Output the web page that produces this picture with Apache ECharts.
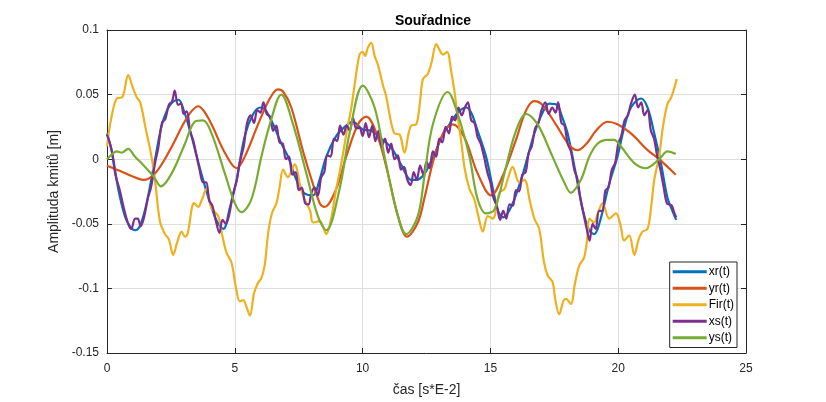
<!DOCTYPE html>
<html>
<head>
<meta charset="utf-8">
<script src="https://cdn.jsdelivr.net/npm/echarts@6/dist/echarts.min.js"></script>
<style>html,body{margin:0;padding:0;background:#fff}#c{width:826px;height:402px}</style>
</head>
<body>
<div id="c"></div>
<script>
const seriesNames = ['xr(t)', 'yr(t)', 'Fir(t)', 'xs(t)', 'ys(t)'];
const xTicks = [0, 5, 10, 15, 20, 25];
const yTicks = [-0.15, -0.1, -0.05, 0, 0.05, 0.1];

const xrData = [[0,0.02],[0.2,0.005],[0.44,-0.023],[0.7,-0.044],[0.9,-0.052],[1.1,-0.055],[1.3,-0.051],[1.55,-0.034],[1.88,0.0],[2.14,0.026],[2.35,0.038],[2.55,0.044],[2.8,0.046],[3.0,0.038],[3.25,0.022],[3.5,0.003],[3.76,-0.016],[4.02,-0.033],[4.3,-0.048],[4.55,-0.054],[4.8,-0.038],[5.07,-0.016],[5.39,0.018],[5.72,0.035],[6.0,0.04],[6.2,0.038],[6.5,0.027],[6.8,0.013],[7.08,0.002],[7.41,-0.016],[7.7,-0.026],[8.06,-0.028],[8.3,-0.017],[8.58,0.002],[8.97,0.018],[9.3,0.025],[9.62,0.029],[10.0,0.023],[10.34,0.022],[10.66,0.017],[11.12,0.009],[11.5,-0.004],[11.9,-0.016],[12.1,-0.016],[12.4,-0.012],[12.62,-0.004],[12.88,0.007],[13.14,0.019],[13.4,0.027],[13.72,0.036],[14.05,0.04],[14.25,0.036],[14.5,0.022],[14.83,0.002],[15.09,-0.022],[15.3,-0.04],[15.5,-0.045],[15.81,-0.037],[16.2,-0.016],[16.46,0.002],[16.72,0.02],[17.04,0.036],[17.3,0.043],[17.6,0.042],[17.8,0.033],[18.02,0.02],[18.34,-0.011],[18.6,-0.038],[18.86,-0.055],[19.06,-0.058],[19.26,-0.05],[19.65,-0.019],[19.97,0.002],[20.23,0.024],[20.5,0.04],[20.89,0.047],[21.15,0.04],[21.41,0.02],[21.67,-0.003],[21.93,-0.03],[22.12,-0.04],[22.27,-0.047]];

const yrData = [[0,-0.005],[0.5,-0.009],[0.96,-0.013],[1.42,-0.016],[1.88,-0.011],[2.46,0.007],[2.98,0.027],[3.3,0.037],[3.57,0.041],[3.8,0.037],[4.09,0.027],[4.61,0.005],[5.07,-0.007],[5.39,0.002],[5.91,0.027],[6.37,0.047],[6.69,0.054],[6.9,0.052],[7.21,0.04],[7.73,0.002],[8.32,-0.034],[8.51,-0.037],[8.97,-0.023],[9.36,0.002],[9.82,0.027],[10.14,0.033],[10.6,0.017],[10.99,-0.011],[11.38,-0.044],[11.74,-0.06],[12.16,-0.049],[12.42,-0.03],[12.81,0.002],[13.2,0.022],[13.53,0.027],[13.98,0.017],[14.5,-0.011],[15.03,-0.028],[15.48,-0.013],[16.0,0.015],[16.4,0.038],[16.72,0.045],[17.04,0.042],[17.56,0.027],[18.08,0.011],[18.41,0.007],[18.8,0.013],[19.13,0.022],[19.58,0.029],[19.97,0.027],[20.5,0.02],[21.15,0.007],[21.6,0],[22.25,-0.012]];

const firData = [[0,0.01],[0.15,0.03],[0.38,0.047],[0.6,0.048],[0.83,0.065],[1.0,0.056],[1.16,0.048],[1.3,0.044],[1.5,0.025],[1.74,0.002],[1.9,-0.02],[2.07,-0.048],[2.27,-0.058],[2.42,-0.062],[2.59,-0.074],[2.75,-0.064],[2.92,-0.056],[3.05,-0.06],[3.15,-0.058],[3.41,-0.034],[3.57,-0.037],[3.7,-0.032],[3.89,-0.023],[4.09,-0.038],[4.35,-0.044],[4.5,-0.058],[4.67,-0.072],[4.87,-0.08],[5.05,-0.1],[5.2,-0.11],[5.33,-0.109],[5.45,-0.114],[5.59,-0.121],[5.75,-0.104],[5.9,-0.096],[6.04,-0.092],[6.17,-0.082],[6.3,-0.058],[6.45,-0.042],[6.63,-0.034],[6.75,-0.022],[6.89,-0.008],[7.08,-0.014],[7.2,-0.01],[7.34,-0.004],[7.6,-0.024],[7.8,-0.034],[7.95,-0.04],[8.06,-0.049],[8.32,-0.048],[8.45,-0.052],[8.58,-0.058],[8.77,-0.046],[8.95,-0.025],[9.17,-0.003],[9.35,0.018],[9.56,0.04],[9.72,0.062],[9.88,0.081],[10.0,0.083],[10.1,0.08],[10.2,0.086],[10.34,0.09],[10.47,0.08],[10.6,0.073],[10.8,0.057],[10.92,0.049],[11.1,0.03],[11.25,0.02],[11.45,0.019],[11.64,0.005],[11.8,0.02],[11.9,0.026],[12.1,0.027],[12.25,0.045],[12.36,0.062],[12.55,0.066],[12.7,0.075],[12.88,0.089],[13.05,0.083],[13.14,0.081],[13.31,0.083],[13.45,0.07],[13.59,0.053],[13.72,0.033],[13.85,0.015],[14.0,-0.008],[14.18,-0.023],[14.37,-0.031],[14.55,-0.046],[14.7,-0.056],[14.9,-0.044],[15.09,-0.046],[15.35,-0.026],[15.55,-0.023],[15.7,-0.014],[15.87,-0.006],[16.13,-0.018],[16.33,-0.016],[16.55,-0.033],[16.72,-0.046],[16.91,-0.054],[17.1,-0.08],[17.24,-0.09],[17.43,-0.095],[17.55,-0.11],[17.69,-0.12],[17.85,-0.11],[17.95,-0.108],[18.15,-0.112],[18.3,-0.097],[18.48,-0.082],[18.67,-0.076],[18.8,-0.059],[18.87,-0.046],[19.06,-0.049],[19.2,-0.042],[19.39,-0.034],[19.65,-0.046],[19.91,-0.042],[20.1,-0.052],[20.23,-0.063],[20.43,-0.059],[20.63,-0.074],[20.8,-0.062],[20.95,-0.056],[21.15,-0.054],[21.3,-0.035],[21.41,-0.016],[21.6,0.002],[21.75,0.025],[21.93,0.043],[22.08,0.048],[22.29,0.062]];

const xsData = [[0,0.019],[0.17,0.008],[0.33,-0.012],[0.5,-0.024],[0.66,-0.038],[0.83,-0.05],[0.95,-0.054],[1.1,-0.046],[1.2,-0.046],[1.32,-0.052],[1.45,-0.045],[1.6,-0.03],[1.72,-0.022],[1.88,-0.003],[2.0,0.008],[2.15,0.028],[2.28,0.031],[2.42,0.042],[2.55,0.045],[2.65,0.053],[2.78,0.042],[2.9,0.043],[3.0,0.035],[3.12,0.037],[3.25,0.022],[3.38,0.014],[3.5,0.003],[3.62,-0.008],[3.76,-0.018],[3.88,-0.018],[4.0,-0.032],[4.12,-0.036],[4.25,-0.047],[4.4,-0.057],[4.52,-0.047],[4.65,-0.05],[4.78,-0.043],[4.92,-0.028],[5.07,-0.017],[5.2,-0.002],[5.35,0.01],[5.48,0.028],[5.62,0.034],[5.75,0.028],[5.88,0.038],[6.0,0.036],[6.12,0.044],[6.25,0.035],[6.38,0.033],[6.5,0.022],[6.62,0.026],[6.75,0.013],[6.88,0.012],[7.0,0.0],[7.12,0.002],[7.25,-0.012],[7.38,-0.01],[7.5,-0.024],[7.62,-0.022],[7.75,-0.034],[7.88,-0.035],[8.0,-0.026],[8.12,-0.022],[8.25,-0.028],[8.38,-0.014],[8.5,-0.01],[8.62,0.003],[8.75,0.002],[8.88,0.016],[9.0,0.014],[9.12,0.026],[9.25,0.019],[9.38,0.026],[9.5,0.022],[9.62,0.032],[9.75,0.024],[9.88,0.024],[10.0,0.018],[10.12,0.028],[10.25,0.017],[10.38,0.026],[10.5,0.014],[10.62,0.022],[10.75,0.01],[10.88,0.016],[11.0,0.005],[11.12,0.012],[11.25,0.0],[11.38,0.003],[11.5,-0.008],[11.62,-0.006],[11.75,-0.016],[11.88,-0.02],[12.0,-0.01],[12.12,-0.016],[12.25,-0.005],[12.38,-0.012],[12.5,-0.002],[12.62,-0.007],[12.75,0.006],[12.88,0.002],[13.0,0.016],[13.12,0.013],[13.25,0.025],[13.38,0.02],[13.5,0.033],[13.62,0.03],[13.75,0.04],[13.88,0.034],[14.0,0.04],[14.12,0.044],[14.25,0.03],[14.38,0.028],[14.5,0.017],[14.62,0.012],[14.75,0.002],[14.88,-0.01],[15.0,-0.018],[15.12,-0.03],[15.25,-0.036],[15.38,-0.047],[15.5,-0.04],[15.62,-0.046],[15.75,-0.035],[15.88,-0.036],[16.0,-0.024],[16.12,-0.025],[16.25,-0.012],[16.38,-0.01],[16.5,0.005],[16.62,0.01],[16.75,0.024],[16.88,0.028],[17.0,0.038],[17.15,0.044],[17.28,0.035],[17.42,0.04],[17.55,0.036],[17.65,0.044],[17.78,0.028],[17.9,0.026],[18.02,0.012],[18.15,0.006],[18.28,-0.008],[18.4,-0.015],[18.52,-0.03],[18.65,-0.043],[18.78,-0.055],[18.88,-0.063],[19.0,-0.05],[19.12,-0.054],[19.25,-0.04],[19.38,-0.04],[19.5,-0.024],[19.62,-0.022],[19.75,-0.008],[19.88,-0.003],[20.0,0.012],[20.12,0.018],[20.25,0.03],[20.38,0.034],[20.5,0.043],[20.65,0.05],[20.78,0.04],[20.9,0.044],[21.02,0.034],[21.15,0.038],[21.28,0.022],[21.4,0.016],[21.52,0.003],[21.65,-0.008],[21.78,-0.022],[21.9,-0.034],[22.0,-0.035],[22.1,-0.036],[22.2,-0.042],[22.27,-0.045]];

const ysData = [[0,0.0],[0.2,0.004],[0.38,0.006],[0.57,0.005],[0.83,0.008],[1.09,0.002],[1.35,-0.003],[1.81,-0.013],[2.11,-0.021],[2.53,-0.011],[3.05,0.012],[3.44,0.029],[3.76,0.03],[4.09,0.02],[4.61,-0.011],[5.0,-0.034],[5.26,-0.041],[5.65,-0.031],[6.04,0.002],[6.37,0.027],[6.82,0.05],[7.28,0.027],[7.8,-0.011],[8.25,-0.044],[8.58,-0.055],[9.1,-0.023],[9.49,0.02],[10.01,0.057],[10.47,0.04],[10.86,0.002],[11.32,-0.039],[11.71,-0.058],[12.16,-0.044],[12.42,-0.013],[12.75,0.027],[13.33,0.052],[13.72,0.035],[14.18,0.002],[14.5,-0.031],[14.83,-0.042],[15.16,-0.039],[15.61,-0.006],[16.0,0.022],[16.4,0.035],[16.85,0.027],[17.43,0.002],[17.89,-0.018],[18.15,-0.026],[18.54,-0.016],[18.87,0.002],[19.19,0.012],[19.58,0.015],[19.84,0.015],[20.1,0.01],[20.63,-0.003],[21.08,-0.007],[21.6,0.0],[21.93,0.006],[22.25,0.004]];

const colors = ['#0072BD', '#D95319', '#EDB120', '#7E2F8E', '#77AC30'];
const allData = [xrData, yrData, firData, xsData, ysData];

const chart = echarts.init(document.getElementById('c'), null, {renderer: 'canvas'});
const font = 'Arial, "Liberation Sans", Helvetica, sans-serif';
const fmt = v => String(parseFloat(Number(v).toFixed(2)));

const axisCommon = {
  axisLine: {show: true, onZero: false, lineStyle: {color: '#262626', width: 1}},
  axisTick: {show: true, inside: true, length: 5, lineStyle: {color: '#262626'}},
};

chart.setOption({
  animation: false,
  backgroundColor: '#ffffff',
  color: colors,
  title: {
    text: 'Souřadnice', left: 428, top: 9, textAlign: 'center',
    textStyle: {fontFamily: font, fontSize: 14, fontWeight: 'bold', color: '#000'}
  },
  grid: {left: 107, right: 80, top: 30, bottom: 46, show: false},
  legend: {
    data: seriesNames,
    orient: 'vertical',
    right: 89, top: 262,
    icon: 'rect', itemWidth: 34, itemHeight: 3, itemGap: 3,
    padding: [3, 3, 3, 3],
    backgroundColor: '#fff', borderColor: '#262626', borderWidth: 1, borderRadius: 0,
    textStyle: {fontFamily: font, fontSize: 12, color: '#000', padding: [0, 0, 0, -3], lineHeight: 13.5}
  },
  xAxis: [
    Object.assign({
      type: 'value', min: xTicks[0], max: xTicks[xTicks.length - 1], interval: 5,
      name: 'čas [s*E-2]', nameLocation: 'middle', nameGap: 30,
      nameTextStyle: {fontFamily: font, fontSize: 14, color: '#262626'},
      axisLabel: {fontFamily: font, fontSize: 12, color: '#262626', margin: 10, formatter: fmt},
      splitLine: {show: true, lineStyle: {color: '#dfdfdf', width: 1}}
    }, axisCommon),
    Object.assign({
      type: 'value', position: 'top', min: xTicks[0], max: xTicks[xTicks.length - 1], interval: 5,
      axisLabel: {show: false}, splitLine: {show: false}
    }, axisCommon)
  ],
  yAxis: [
    Object.assign({
      type: 'value', min: yTicks[0], max: yTicks[yTicks.length - 1], interval: 0.05,
      name: 'Amplituda kmitů [m]', nameLocation: 'middle', nameGap: 42,
      nameTextStyle: {fontFamily: font, fontSize: 14, color: '#262626'},
      axisLabel: {fontFamily: font, fontSize: 12, color: '#262626', margin: 8, padding: [3, 0, 0, 0], formatter: fmt},
      splitLine: {show: true, lineStyle: {color: '#dfdfdf', width: 1}}
    }, axisCommon),
    Object.assign({
      type: 'value', position: 'right', min: yTicks[0], max: yTicks[yTicks.length - 1], interval: 0.05,
      axisLabel: {show: false}, splitLine: {show: false}
    }, axisCommon)
  ],
  series: seriesNames.map((n, i) => ({
    name: n, type: 'line', data: allData[i], xAxisIndex: 0, yAxisIndex: 0,
    showSymbol: false, symbol: 'none', smooth: 0.35,
    lineStyle: {color: colors[i], width: 2.2},
    itemStyle: {color: colors[i]},
    z: 2 + i
  }))
});
</script>
</body>
</html>
